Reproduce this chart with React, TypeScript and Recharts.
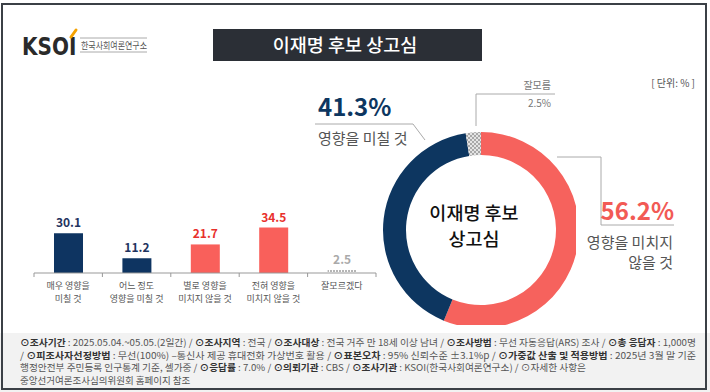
import React from 'react';
import { Bar, BarChart, Cell, LabelList, Pie, PieChart, XAxis, YAxis } from 'recharts';

const KR = '"Noto Sans CJK KR", "Noto Sans", sans-serif';

// bar chart (세부 응답)
const barCategories = ['매우 영향을\n미칠 것', '어느 정도\n영향을 미칠 것', '별로 영향을\n미치지 않을 것', '전혀 영향을\n미치지 않을 것', '잘모르겠다'];
const barValues = [30.1, 11.2, 21.7, 34.5, 2.5];
const barColors = ['#0e3461', '#0e3461', '#f9605b', '#f9605b', 'url(#dotFill)'];
const barLabelColors = ['#1f3460', '#1f3460', '#e8302c', '#e8302c', '#aaaaaa'];

// donut (요약)
const pieNames = ['영향을 미치지 않을 것', '영향을 미칠 것', '잘모름'];
const pieValues = [56.2, 41.3, 2.5];
const pieColors = ['#f6625d', '#0d3660', 'url(#checkFill)'];

const footerLines = [
  [['⊙조사기간', ' : 2025.05.04.~05.05.(2일간)  / '], ['⊙조사지역', ' : 전국 / '], ['⊙조사대상', ' : 전국 거주 만 18세 이상 남녀 / '], ['⊙조사방법', ' : 무선 자동응답(ARS) 조사 / '], ['⊙총 응답자', ' : 1,000명']],
  [['', '/ '], ['⊙피조사자선정방법', ' : 무선(100%) –통신사 제공 휴대전화 가상번호 활용 / '], ['⊙표본오차', ' : 95% 신뢰수준 ±3.1%p / '], ['⊙가중값 산출 및 적용방법', ' : 2025년 3월 말 기준']],
  [['', '행정안전부 주민등록 인구통계 기준, 셀가중 / '], ['⊙응답률', ' : 7.0% / '], ['⊙의뢰기관', ' : CBS / '], ['⊙조사기관', ' : KSOI(한국사회여론연구소) / '], ['', '⊙자세한 사항은']],
  [['', '중앙선거여론조사심의위원회 홈페이지 참조']],
];
const footerWidths = [676, 676, 566, 0];

const barData = barCategories.map((c, i) => ({ name: c, value: barValues[i] }));
const pieData = pieNames.map((n, i) => ({ name: n, value: pieValues[i] }));

const HALF_BAND = 34.2;

function CategoryTick(props: any) {
  const { x, y, payload, index } = props;
  const lines = String(payload.value).split('\n');
  return (
    <g>
      <line x1={x - HALF_BAND} y1={y} x2={x - HALF_BAND} y2={y + 4} stroke="#999" />
      {index === barCategories.length - 1 && (
        <line x1={x + HALF_BAND} y1={y} x2={x + HALF_BAND} y2={y + 4} stroke="#999" />
      )}
      {lines.map((l, i) => (
        <text key={i} x={x} y={y + 16 + i * 13.2} textAnchor="middle" fontSize={9} fill="#555" fontFamily={KR}>
          {l}
        </text>
      ))}
    </g>
  );
}

function ValueLabel(props: any) {
  const { x, y, width, value, index } = props;
  return (
    <text x={x + width / 2} y={y - 6} textAnchor="middle" fontSize={12} fontWeight={700} fill={barLabelColors[index]} fontFamily={KR}>
      {value}
    </text>
  );
}

function Patterns() {
  return (
    <defs>
      <pattern id="dotFill" width="3" height="3" patternUnits="userSpaceOnUse">
        <rect width="3" height="3" fill="#ffffff" />
        <rect width="2" height="2" fill="#b5b5b5" />
      </pattern>
      <pattern id="checkFill" width="4" height="4" patternUnits="userSpaceOnUse">
        <rect width="4" height="4" fill="#e4e4e4" />
        <rect width="2" height="2" fill="#a8a8a8" />
        <rect x="2" y="2" width="2" height="2" fill="#a8a8a8" />
      </pattern>
    </defs>
  );
}

export default function App() {
  return (
    <div style={{ position: 'absolute', left: 0, top: 0, width: 710, height: 392, background: '#fff', fontFamily: KR, overflow: 'hidden' }}>
      {/* frame, header, footer */}
      <svg width={710} height={392} style={{ position: 'absolute', left: 0, top: 0 }}>
        <Patterns />
        <rect x={0} y={333} width={710} height={59} fill="#f2f2f2" />
        <rect x={2} y={4} width={704} height={385} fill="none" stroke="#3b4046" strokeWidth={2} />
        {/* logo */}
        <text transform="translate(22 55) scale(0.8 1)" fontSize={25} fontWeight={700} fill="#2a2a2a" fontFamily="'DejaVu Sans', sans-serif">KSOI</text>
        <path d="M71 37 L76 30" stroke="#f5a200" strokeWidth={3} strokeLinecap="round" />
        <line x1={80} y1={38} x2={147} y2={38} stroke="#aaa" strokeWidth={1} />
        <line x1={80} y1={52} x2={147} y2={52} stroke="#aaa" strokeWidth={1} />
        <text x={81} y={48.5} fontSize={9.5} fill="#555" textLength={66} lengthAdjust="spacingAndGlyphs">한국사회여론연구소</text>
        {/* title */}
        <rect x={213} y={29} width={269} height={32} fill="#2b2f36" />
        <text x={345} y={51.5} textAnchor="middle" fontSize={18.5} fontWeight={500} fill="#fff">이재명 후보 상고심</text>
        <text x={695} y={87} textAnchor="end" fontSize={10} fill="#555">[ 단위: % ]</text>
        {/* footer */}
        {footerLines.map((line, li) => (
          <text key={li} x={20} y={346 + li * 12.6} fontSize={9.5} fill="#555"
            {...(footerWidths[li] ? { textLength: footerWidths[li], lengthAdjust: 'spacingAndGlyphs' } : {})}>
            {line.map((seg, si) => (
              <React.Fragment key={si}>
                {seg[0] && <tspan fontWeight={700} fill="#333">{seg[0]}</tspan>}
                <tspan>{seg[1]}</tspan>
              </React.Fragment>
            ))}
          </text>
        ))}
      </svg>

      {/* bar chart */}
      <div style={{ position: 'absolute', left: 0, top: 0 }}>
        <BarChart width={400} height={320} data={barData} margin={{ top: 194, right: 24, bottom: 7, left: 34 }}>
          <Patterns />
          <YAxis hide domain={[0, 60]} />
          <XAxis dataKey="name" axisLine={{ stroke: '#999' }} tickLine={false} tickSize={0} tickMargin={0} height={40}
            interval={0} tick={<CategoryTick />} />
          <Bar dataKey="value" barSize={29} isAnimationActive={false}>
            {barData.map((_, i) => <Cell key={i} fill={barColors[i]} />)}
            <LabelList dataKey="value" content={<ValueLabel />} />
          </Bar>
        </BarChart>
      </div>

      {/* donut */}
      <div style={{ position: 'absolute', left: 376, top: 125 }}>
        <PieChart width={200} height={200}>
          <Patterns />
          <Pie data={pieData} dataKey="value" cx={100} cy={100} innerRadius={75} outerRadius={98}
            startAngle={90} endAngle={-270} stroke="none" isAnimationActive={false}>
            {pieData.map((_, i) => <Cell key={i} fill={pieColors[i]} />)}
          </Pie>
        </PieChart>
      </div>

      {/* donut annotations */}
      <svg width={710} height={392} style={{ position: 'absolute', left: 0, top: 0, pointerEvents: 'none' }}>
        <text x={474} y={220} textAnchor="middle" fontSize={18.5} fontWeight={500} fill="#111">이재명 후보</text>
        <text x={474} y={246} textAnchor="middle" fontSize={18.5} fontWeight={500} fill="#111">상고심</text>
        <polyline points="476,126 476,94 555,94" fill="none" stroke="#aaa" />
        <text x={551} y={89} textAnchor="end" fontSize={10} fill="#777">잘모름</text>
        <text x={551} y={107} textAnchor="end" fontSize={10} fill="#777">2.5%</text>
        <polyline points="557,157 601,157 601,225 674,225" fill="none" stroke="#aaa" />
        <text x={674} y={220} textAnchor="end" fontSize={24} fontWeight={700} fill="#f25a55">{pieValues[0]}%</text>
        <text x={673} y={248} textAnchor="end" fontSize={15} fill="#555">영향을 미치지</text>
        <text x={673} y={268} textAnchor="end" fontSize={15} fill="#555">않을 것</text>
        <polyline points="425,140 413,124 315,124" fill="none" stroke="#aaa" />
        <text x={318} y={116} fontSize={24} fontWeight={700} fill="#0d3660">{pieValues[1]}%</text>
        <text x={318} y={144} fontSize={15} fill="#555">영향을 미칠 것</text>
      </svg>
    </div>
  );
}
